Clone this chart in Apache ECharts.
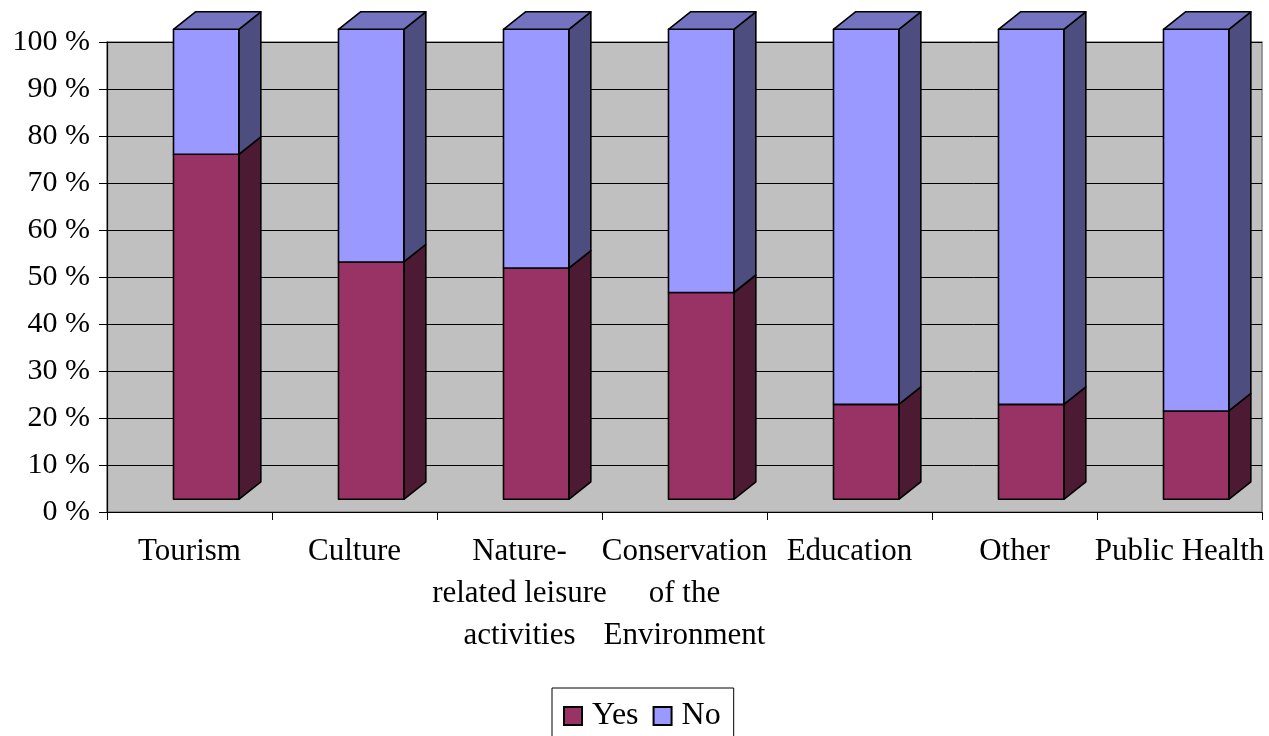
<!DOCTYPE html>
<html>
<head>
<meta charset="utf-8">
<title>Yes / No by field</title>
<script src="https://cdn.jsdelivr.net/npm/echarts@6/dist/echarts.min.js"></script>
<style>
  html, body { margin: 0; padding: 0; background: #ffffff; }
  #chart { width: 1269px; height: 736px; }
</style>
</head>
<body>
<div id="chart"></div>
<script>
// Categories and shares (%) of answers
const categories = [
  'Tourism',
  'Culture',
  'Nature-\nrelated leisure\nactivities',
  'Conservation\nof the\nEnvironment',
  'Education',
  'Other',
  'Public Health'
];
const yesValues = [73.4, 50.5, 49.2, 44.0, 20.2, 20.2, 18.8];
const noValues = yesValues.map(v => +(100 - v).toFixed(1));
const seriesNames = ['Yes', 'No'];

// Face colours for the 3-D prisms: [front, side, top]
const faceColors = {
  Yes: ['#993366', '#4D1A33', '#7A2952'],
  No: ['#9999FF', '#4D4D80', '#7373BF']
};

// Projection of the prism depth and position of the front face within a band
const FRONT_SHIFT_Y = -12.7;
const DEPTH_DX = 22;
const DEPTH_DY = -17.5;

function prismRenderer(name, isTop) {
  const cols = faceColors[name];
  return function (params, api) {
    const idx = api.value(0);
    const lo = api.value(1);
    const hi = api.value(2);
    const bw = api.size([1, 0])[0];
    const pLo = api.coord([idx, lo]);
    const pHi = api.coord([idx, hi]);
    const x0 = pLo[0] - bw * 0.097;
    const x1 = x0 + bw * 0.396;
    const yB = pLo[1] + FRONT_SHIFT_Y;
    const yT = pHi[1] + FRONT_SHIFT_Y;
    const stroke = { stroke: '#000', lineWidth: 1.6, lineJoin: 'round' };
    const children = [
      {
        type: 'polygon',
        shape: { points: [[x1, yB], [x1 + DEPTH_DX, yB + DEPTH_DY], [x1 + DEPTH_DX, yT + DEPTH_DY], [x1, yT]] },
        style: Object.assign({ fill: cols[1] }, stroke)
      },
      {
        type: 'rect',
        shape: { x: x0, y: yT, width: x1 - x0, height: yB - yT },
        style: Object.assign({ fill: cols[0] }, stroke)
      }
    ];
    if (isTop) {
      children.push({
        type: 'polygon',
        shape: { points: [[x0, yT], [x0 + DEPTH_DX, yT + DEPTH_DY], [x1 + DEPTH_DX, yT + DEPTH_DY], [x1, yT]] },
        style: Object.assign({ fill: cols[2] }, stroke)
      });
    }
    return { type: 'group', children: children };
  };
}

const yesData = yesValues.map((v, i) => [i, 0, v]);
const noData = noValues.map((v, i) => [i, yesValues[i], yesValues[i] + v]);

const FONT = '"Liberation Serif", "Times New Roman", serif';

const chart = echarts.init(document.getElementById('chart'), null, { renderer: 'canvas' });
chart.setOption({
  backgroundColor: '#ffffff',
  animation: false,
  grid: {
    left: 107, right: 7, top: 42, bottom: 224,
    show: true,
    backgroundColor: '#C0C0C0',
    borderColor: '#808080',
    borderWidth: 1.5
  },
  legend: {
    data: seriesNames,
    left: 552,
    top: 688,
    orient: 'horizontal',
    icon: 'rect',
    itemWidth: 18,
    itemHeight: 18,
    itemGap: 14,
    padding: [12, 13, 12, 11],
    borderColor: '#000',
    borderWidth: 1,
    textStyle: { fontFamily: FONT, fontSize: 32, color: '#000', padding: [0, 0, 0, 5] }
  },
  xAxis: {
    type: 'category',
    data: categories,
    boundaryGap: true,
    axisLine: { show: true, lineStyle: { color: '#000', width: 1.2 } },
    axisTick: { show: true, length: 8, interval: 0, lineStyle: { color: '#000' } },
    axisLabel: {
      interval: 0,
      margin: 19,
      fontFamily: FONT,
      fontSize: 31,
      lineHeight: 42,
      color: '#000'
    },
    splitLine: { show: false }
  },
  yAxis: {
    type: 'value',
    min: 0,
    max: 100,
    interval: 10,
    axisLine: { show: true, lineStyle: { color: '#000', width: 1.2 } },
    axisTick: { show: true, length: 8, inside: false, lineStyle: { color: '#000' } },
    axisLabel: {
      margin: 17,
      formatter: '{value} %',
      fontFamily: FONT,
      fontSize: 30,
      color: '#000'
    },
    splitLine: { show: true, lineStyle: { color: '#000', width: 1 } }
  },
  series: [
    {
      name: 'Yes',
      type: 'custom',
      renderItem: prismRenderer('Yes', false),
      data: yesData,
      encode: { x: 0, y: [1, 2] },
      itemStyle: { color: faceColors.Yes[0], borderColor: '#000', borderWidth: 1.5 },
      clip: false,
      z: 2
    },
    {
      name: 'No',
      type: 'custom',
      renderItem: prismRenderer('No', true),
      data: noData,
      encode: { x: 0, y: [1, 2] },
      itemStyle: { color: faceColors.No[0], borderColor: '#000', borderWidth: 1.5 },
      clip: false,
      z: 3
    }
  ]
});
</script>
</body>
</html>
